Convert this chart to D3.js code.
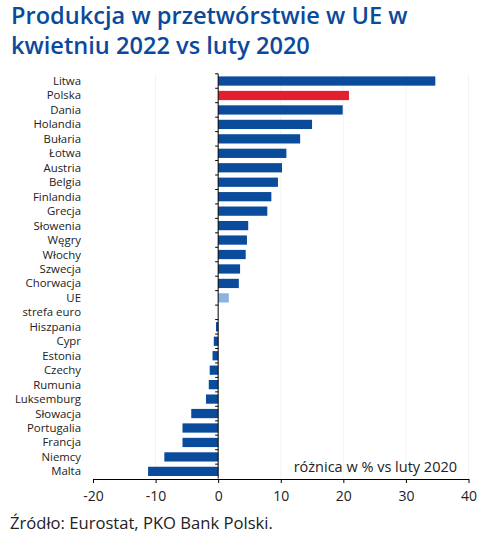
<!DOCTYPE html>
<html><head><meta charset="utf-8">
<script src="https://cdn.jsdelivr.net/npm/d3@7"></script>
<style>body{margin:0;background:#fff}svg{display:block}</style>
</head><body><svg id="c" width="496" height="545"></svg>
<script>
const categories = ["Litwa","Polska","Dania","Holandia","Bułaria","Łotwa","Austria","Belgia","Finlandia","Grecja","Słowenia","Węgry","Włochy","Szwecja","Chorwacja","UE","strefa euro","Hiszpania","Cypr","Estonia","Czechy","Rumunia","Luksemburg","Słowacja","Portugalia","Francja","Niemcy","Malta"];
const values = [34.7,20.9,19.9,15.0,13.1,10.9,10.2,9.55,8.5,7.85,4.8,4.6,4.4,3.5,3.3,1.7,0,-0.35,-0.7,-0.9,-1.35,-1.5,-1.95,-4.3,-5.7,-5.7,-8.6,-11.2];
const xTicks = [-20,-10,0,10,20,30,40];
const titleLines = ["Produkcja w przetwórstwie w UE w","kwietniu 2022 vs luty 2020"];
const note = "różnica w % vs luty 2020";
const source = "Źródło: Eurostat, PKO Bank Polski.";

const svg = d3.select("#c");
const font = "'Open Sans', sans-serif";
const x = d3.scaleLinear().domain([-20,40]).range([93,468.5]);
const y = d3.scaleBand().domain(categories).range([73.8,478.6]).paddingInner(0.36).paddingOuter(0.18);

// title
svg.append("g").selectAll("text").data(titleLines).join("text")
  .attr("x",11).attr("y",(d,i)=>24+i*30)
  .attr("fill","#0b4a9b").attr("font-family",font).attr("font-weight",600).attr("font-size",23.6)
  .text(d=>d);

// faint grid
svg.append("g").selectAll("line").data(xTicks.filter(d=>d!==0 && d!==-20)).join("line")
  .attr("x1",d=>x(d)).attr("x2",d=>x(d)).attr("y1",73.8).attr("y2",478.6)
  .attr("stroke","#f3f3f3").attr("stroke-width",1);

// bars
svg.append("g").selectAll("rect").data(categories).join("rect")
  .attr("x",(d,i)=>x(Math.min(0,values[i])))
  .attr("width",(d,i)=>Math.abs(x(values[i])-x(0)))
  .attr("y",d=>y(d)).attr("height",y.bandwidth())
  .attr("fill",(d,i)=> d==="Polska" ? "#e31e2f" : d==="UE" ? "#8cb2e2" : "#0a4b9b");

// y axis
const yA = svg.append("g").attr("transform",`translate(${x(0)},0)`);
yA.append("line").attr("x1",0).attr("x2",0).attr("y1",73.8).attr("y2",478.6).attr("stroke","#000");
const bounds = d3.range(categories.length).map(i=>73.8+i*y.step());
yA.selectAll(".t").data(bounds).join("line").attr("class","t")
  .attr("x1",-3).attr("x2",0).attr("y1",d=>d).attr("y2",d=>d).attr("stroke","#000");

// category labels
svg.append("g").selectAll("text").data(categories).join("text")
  .attr("x",81).attr("y",d=>y(d)+y.bandwidth()/2).attr("dy","0.35em")
  .attr("text-anchor","end").attr("font-family",font).attr("font-size",11.4).attr("fill","#222")
  .text(d=>d);

// x axis
const xA = svg.append("g").attr("transform","translate(0,479)")
  .call(d3.axisBottom(x).tickValues(xTicks).tickSize(4).tickSizeOuter(0).tickFormat(d=>d));
xA.select(".domain").attr("stroke","#000");
xA.selectAll("line").attr("stroke","#000");
xA.selectAll("text").attr("font-family",font).attr("font-size",14).attr("fill","#222").attr("dy","1.1em");

// note
svg.append("text").attr("x",457).attr("y",472).attr("text-anchor","end")
  .attr("font-family",font).attr("font-size",14.5).attr("fill","#222").text(note);

// source
svg.append("text").attr("x",10).attr("y",529)
  .attr("font-family",font).attr("font-size",16.6).attr("fill","#222").text(source);
</script></body></html>
